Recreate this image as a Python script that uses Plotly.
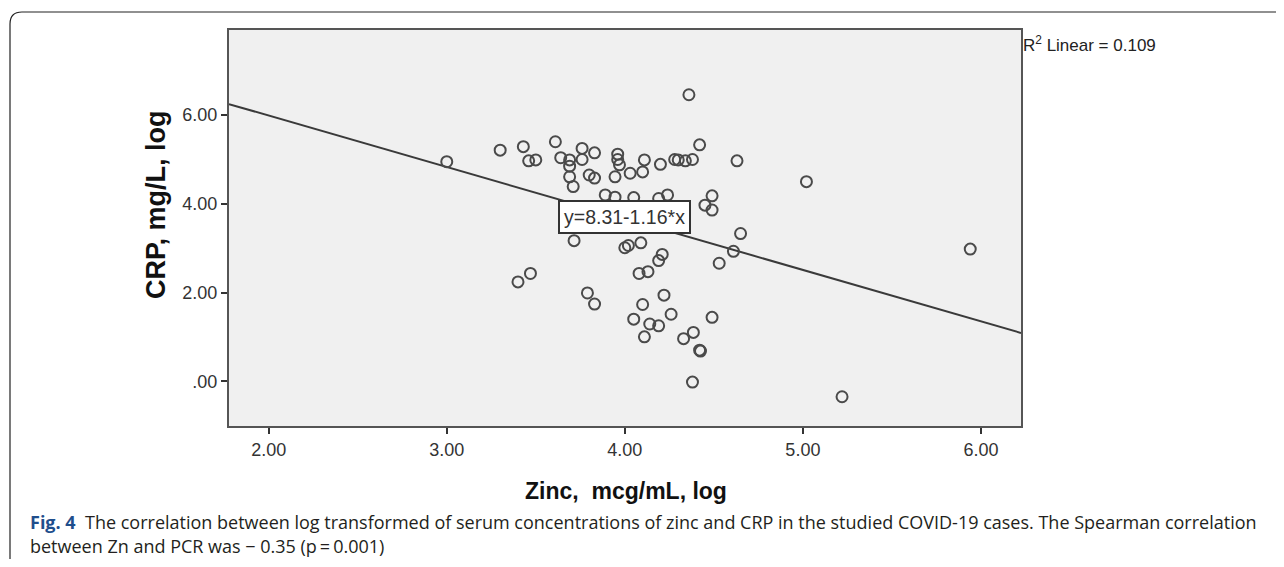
import plotly.graph_objects as go

# ---- data ----
zinc_log = [3.00, 3.30, 3.43, 3.46, 3.50, 3.61, 3.64, 3.69, 3.69, 3.69, 3.71, 3.76, 3.76, 3.83,
            3.80, 3.83, 3.89, 3.96, 3.96, 3.97, 3.945, 3.945, 4.03, 4.10, 4.11, 4.20, 4.28, 4.30,
            4.34, 4.38, 4.36, 4.42, 4.63, 4.05, 4.19, 4.24, 4.49, 4.45, 4.49, 5.02, 3.715, 4.00,
            4.02, 4.09, 4.65, 4.61, 4.53, 4.21, 4.19, 4.08, 4.13, 3.40, 3.47, 3.79, 3.83, 4.22,
            4.10, 4.26, 4.05, 4.14, 4.19, 4.49, 4.11, 4.385, 4.33, 4.42, 4.425, 4.38, 5.22, 5.94]
crp_log = [4.95, 5.21, 5.29, 4.97, 4.99, 5.40, 5.04, 4.99, 4.85, 4.61, 4.39, 5.25, 5.00, 5.15,
           4.65, 4.58, 4.20, 5.12, 5.00, 4.88, 4.61, 4.15, 4.69, 4.72, 4.99, 4.89, 5.00, 4.99,
           4.97, 5.00, 6.46, 5.33, 4.97, 4.14, 4.12, 4.20, 4.18, 3.97, 3.86, 4.50, 3.17, 3.01,
           3.06, 3.12, 3.33, 2.93, 2.66, 2.86, 2.72, 2.43, 2.47, 2.24, 2.43, 1.99, 1.74, 1.94,
           1.73, 1.51, 1.40, 1.29, 1.25, 1.44, 1.00, 1.10, 0.96, 0.70, 0.68, -0.02, -0.35, 2.98]

fit_intercept = 8.31
fit_slope = -1.16
r2_linear = 0.109

x_range = [1.777, 6.225]
y_range = [-1.01, 7.92]
x_tickvals = [2, 3, 4, 5, 6]
x_ticktext = ["2.00", "3.00", "4.00", "5.00", "6.00"]
y_tickvals = [0, 2, 4, 6]
y_ticktext = [".00", "2.00", "4.00", "6.00"]

x_title = "Zinc,  mcg/mL, log"
y_title = "CRP, mg/L, log"
caption_line1 = ("<b style='color:#1f4e8c'>Fig. 4</b>  The correlation between log transformed of serum "
                 "concentrations of zinc and CRP in the studied COVID-19 cases. The Spearman correlation")
caption_line2 = "between Zn and PCR was \u2212 0.35 (p\u2009=\u20090.001)"

# ---- figure (page body has an 8px margin; compensate) ----
OFF = 8
W, H = 1284 - 2 * OFF, 567 - 2 * OFF
L, R, T, B = 229 - OFF, 1021 - OFF, 30 - OFF, 426 - OFF
pw, ph = R - L, B - T

def px(xp):  # page pixel -> paper x
    return (xp - OFF - L) / pw

def py(yp):  # page pixel -> paper y
    return (B - (yp - OFF)) / ph

fit_x = list(x_range)
fit_y = [fit_intercept + fit_slope * v for v in fit_x]

fig = go.Figure()
fig.add_trace(go.Scatter(
    x=fit_x, y=fit_y, mode="lines",
    line=dict(color="#3a3a3a", width=2), hoverinfo="skip", showlegend=False))
fig.add_trace(go.Scatter(
    x=zinc_log, y=crp_log, mode="markers",
    marker=dict(symbol="circle-open", size=11, color="#4a4a4a", line=dict(width=2, color="#4a4a4a")),
    showlegend=False))

axis_common = dict(showgrid=False, zeroline=False, showline=True, mirror=True,
                   linecolor="#555555", linewidth=2, ticks="outside", ticklen=6,
                   tickwidth=2, tickcolor="#333333",
                   tickfont=dict(family="Liberation Sans", size=18, color="#333333"))

fig.update_layout(
    width=W, height=H,
    margin=dict(l=L, r=W - R, t=T, b=H - B),
    paper_bgcolor="white", plot_bgcolor="#f0f0f0",
    xaxis=dict(range=x_range, tickvals=x_tickvals, ticktext=x_ticktext, **axis_common),
    yaxis=dict(range=y_range, tickvals=y_tickvals, ticktext=y_ticktext, **axis_common),
)

annotations = [
    dict(x=px(626), y=py(491), xref="paper", yref="paper", text="<b>" + x_title + "</b>",
         showarrow=False, font=dict(family="Liberation Sans", size=23, color="#111111"),
         xanchor="center", yanchor="middle"),
    dict(x=px(156), y=py(205), xref="paper", yref="paper", text="<b>" + y_title + "</b>",
         showarrow=False, textangle=-90, font=dict(family="Liberation Sans", size=27, color="#111111"),
         xanchor="center", yanchor="middle"),
    dict(x=1.0, y=py(44), xref="paper", yref="paper",
         text="R<sup>2</sup> Linear = %.3f" % r2_linear,
         showarrow=False, font=dict(family="Liberation Sans", size=17, color="#222222"),
         xanchor="left", yanchor="middle"),
    dict(x=4.0, y=3.70, xref="x", yref="y",
         text="y=%.2f-%.2f*x" % (fit_intercept, -fit_slope),
         showarrow=False, font=dict(family="Liberation Sans", size=19.5, color="#333333"),
         bgcolor="white", bordercolor="#333333", borderwidth=2, borderpad=4),
    dict(x=px(28), y=py(522), xref="paper", yref="paper", text=caption_line1,
         showarrow=False, font=dict(family="Open Sans", size=18, color="#231f20"),
         xanchor="left", yanchor="middle"),
    dict(x=px(28), y=py(546), xref="paper", yref="paper", text=caption_line2,
         showarrow=False, font=dict(family="Open Sans", size=18, color="#231f20"),
         xanchor="left", yanchor="middle"),
]
fig.update_layout(annotations=annotations)

# rounded frame around the figure + caption (open to right/bottom beyond the crop)
x0, y0 = px(10), py(12)
rx, ry = 12 / pw, 12 / ph
xb, yb = px(1300), py(590)
path = (f"M {x0},{yb} L {x0},{y0 - ry} Q {x0},{y0} {x0 + rx},{y0} L {xb},{y0}")
fig.add_shape(type="path", path=path, xref="paper", yref="paper",
              line=dict(color="#222222", width=1.2), layer="above")

fig.write_html("out.html")
